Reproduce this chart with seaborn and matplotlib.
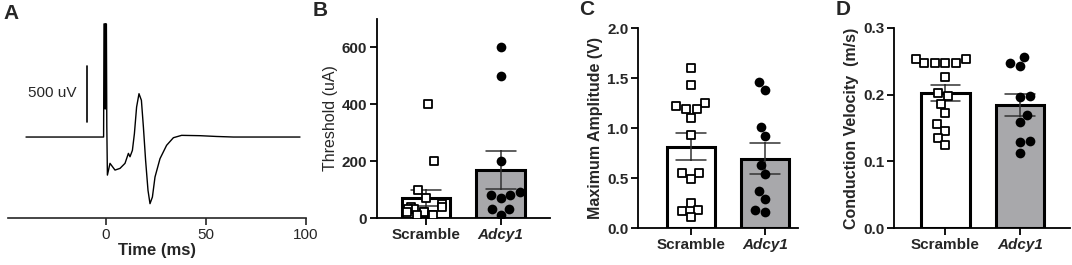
import numpy as np
import pandas as pd
import matplotlib
matplotlib.use("Agg")
import matplotlib.pyplot as plt
import seaborn as sns

sns.set_theme(style="ticks")
plt.rcParams['font.family'] = ['Liberation Sans', 'DejaVu Sans']
np.random.seed(3)

# ---------------- data ----------------
groups = ["Scramble", "Adcy1"]

# Panel A: example compound action potential trace
trace_time_ms = [-40, -1.2, -1.0, -0.6, -0.4, -0.2, 0.2, 0.4, 0.7, 2.0, 4.5, 7.0, 9.5,
                 11.2, 12.0, 13.2, 14.2, 15.3, 16.5, 17.7, 18.7, 19.8, 21.0, 22.0,
                 23.2, 24.5, 27.0, 30.3, 33.7, 37.8, 47.0, 55.3, 63.7, 97.0]
trace_uv = [0, 0, 1010, 1010, 250, 1010, 1010, 100, -340, -235, -295, -280, -235,
            -146, -176, -119, 30, 268, 387, 328, 89, -208, -476, -595,
            -536, -357, -193, -74, -6, 15, 12, 5, 0, 0]

# Panel B: threshold (uA)
threshold_scramble = [400, 200, 100, 70, 50, 40, 40, 30, 30, 20, 20, 20, 10, 10, 10]
threshold_adcy1 = [600, 500, 200, 90, 80, 80, 70, 30, 30, 10]

# Panel C: maximum amplitude (V)
amp_scramble = [1.60, 1.43, 1.25, 1.22, 1.19, 1.19, 1.10, 0.93, 0.55, 0.55, 0.49,
                0.25, 0.18, 0.17, 0.11]
amp_adcy1 = [1.46, 1.38, 1.01, 0.92, 0.63, 0.54, 0.37, 0.29, 0.18, 0.16]

# Panel D: conduction velocity (m/s)
cv_scramble = [0.248, 0.248, 0.253, 0.248, 0.248, 0.254, 0.226, 0.203, 0.198,
               0.186, 0.172, 0.156, 0.146, 0.135, 0.124]
cv_adcy1 = [0.256, 0.2425, 0.2476, 0.198, 0.196, 0.169, 0.159, 0.131, 0.129, 0.112]

bar_colors = {"Scramble": "white", "Adcy1": "#a7a7ac"}

# ---------------- figure ----------------
W, H = 1072, 265
fig = plt.figure(figsize=(W / 100, H / 100), dpi=100)


def ax_px(left, right, top, bottom):
    return fig.add_axes([left / W, (H - bottom) / H, (right - left) / W, (bottom - top) / H])


TICKFS = 11

# ---- Panel A ----
axA = ax_px(8, 306, 20, 218)
sns.lineplot(x=trace_time_ms, y=trace_uv, sort=False, estimator=None,
             color="black", linewidth=1.0, ax=axA)
axA.set_xlim(-49, 100)
axA.set_ylim(-723, 1045)
for s in ["left", "right", "top"]:
    axA.spines[s].set_visible(False)
axA.spines["bottom"].set_linewidth(1.2)
axA.set_yticks([])
axA.set_xticks([0, 50, 100])
axA.tick_params(axis="x", length=5, width=1.2, labelsize=TICKFS, pad=2)
axA.set_xlabel("Time (ms)", fontsize=12, fontweight="bold", labelpad=1)
# scale bar
axA.plot([-9.5, -9.5], [134, 634], color="black", linewidth=1.2)
axA.text(-14.5, 390, "500 uV", ha="right", va="center", fontsize=11)


def bar_panel(ax, a, b, ylim, yticks, yfmt, ylabel, ylabel_bold, xlim, strip=False):
    df = pd.DataFrame({
        "group": ["Scramble"] * len(a) + ["Adcy1"] * len(b),
        "value": list(a) + list(b),
    })
    sns.barplot(data=df, x="group", y="value", hue="group", order=groups,
                palette=bar_colors, edgecolor="black", linewidth=2.2, width=0.65,
                errorbar="se", capsize=0.4,
                err_kws={"color": "#333333", "linewidth": 1.1}, legend=False, ax=ax)
    if strip:
        sns.stripplot(data=df[df.group == "Scramble"], x="group", y="value", order=groups,
                      marker="s", color="white", edgecolor="black", linewidth=1.3, size=6.0,
                      jitter=0.27, ax=ax, zorder=5)
    else:
        sns.swarmplot(data=df[df.group == "Scramble"], x="group", y="value", order=groups,
                      marker="s", color="white", edgecolor="black", linewidth=1.3, size=6.0,
                      ax=ax, zorder=5)
    sns.swarmplot(data=df[df.group == "Adcy1"], x="group", y="value", order=groups,
                  marker="o", color="black", edgecolor="black", linewidth=0, size=7.0,
                  ax=ax, zorder=5)
    ax.set_ylim(*ylim)
    ax.set_xlim(*xlim)
    ax.set_yticks(yticks)
    ax.set_yticklabels([yfmt.format(t) for t in yticks], fontweight="bold", fontsize=TICKFS)
    ax.set_xticks([0, 1])
    ax.set_xticklabels(groups, fontsize=TICKFS, fontweight="bold")
    ax.get_xticklabels()[1].set_fontstyle("italic")
    ax.set_xlabel("")
    ax.set_ylabel(ylabel, fontsize=11.5, fontweight="bold" if ylabel_bold else "normal",
                  labelpad=3)
    sns.despine(ax=ax)
    for s in ["left", "bottom"]:
        ax.spines[s].set_linewidth(1.3)
        ax.spines[s].set_color("black")
    ax.tick_params(axis="both", length=5, width=1.3, color="black", pad=2)


axB = ax_px(377, 550, 19, 218)
bar_panel(axB, threshold_scramble, threshold_adcy1, (0, 700), [0, 200, 400, 600], "{:d}",
          "Threshold (uA)", False, (-0.656, 1.66), strip=True)

axC = ax_px(638, 798, 28, 228)
bar_panel(axC, amp_scramble, amp_adcy1, (0, 2.0), [0.0, 0.5, 1.0, 1.5, 2.0], "{:.1f}",
          "Maximum Amplitude (V)", True, (-0.712, 1.446))

axD = ax_px(894, 1070, 28, 228)
bar_panel(axD, cv_scramble, cv_adcy1, (0, 0.3), [0.0, 0.1, 0.2, 0.3], "{:.1f}",
          "Conduction Velocity  (m/s)", True, (-0.692, 1.673))

# panel letters
for lab, x, y in [("A", 3, 4), ("B", 313, 1), ("C", 579, 0), ("D", 836, 0)]:
    fig.text(x / W, 1 - y / H, lab, fontsize=15, fontweight="bold", ha="left", va="top")

fig.savefig("out.png", dpi=100)
